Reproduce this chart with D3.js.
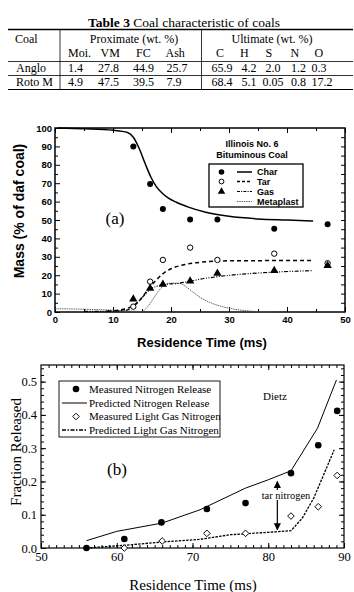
<!DOCTYPE html>
<html>
<head>
<meta charset="utf-8">
<script src="https://cdn.jsdelivr.net/npm/d3@7"></script>
<style>
  body { margin: 0; background: #fff; }
  svg { display: block; }
</style>
</head>
<body>
<div id="chart"></div>
<script>
// ---------- Table data
const coals = ['Anglo', 'Roto M']
const proxCols = ['Moi.', 'VM', 'FC', 'Ash']
const ultCols = ['C', 'H', 'S', 'N', 'O']
const angloVals = ['1.4', '27.8', '44.9', '25.7', '65.9', '4.2', '2.0', '1.2', '0.3']
const rotoVals = ['4.9', '47.5', '39.5', '7.9', '68.4', '5.1', '0.05', '0.8', '17.2']

// ---------- (a) Illinois No. 6 measurements
const measT = [13.5, 16.4, 18.6, 23.3, 28, 37.8, 47]
const charMeas = [90, 69.6, 56, 50.3, 50.3, 45.3, 47.7]
const tarMeas = [2.9, 16.5, 28.3, 35, 28.3, 31.7, 26.5]
const gasMeas = [7, 12.9, 15, 16.8, 21, 22.5, 25.2]

// (a) model curves
const charLineT = [0.5, 5, 10, 12.5, 13.5, 14.5, 15.5, 16.5, 17.5, 18.5, 19.5, 21, 23, 26, 30, 35, 40, 44.5]
const charLineM = [100, 99.6, 98.8, 97.6, 95, 89, 81, 73.5, 68, 64.5, 62, 59.5, 57, 54.2, 52, 50.6, 50, 49.5]
const tarLineT = [9, 11, 12.5, 13.5, 14.5, 15.5, 16.5, 17.5, 18.5, 20, 22, 25, 30, 44.5]
const tarLineM = [0.5, 1, 2, 3.5, 6, 10, 14, 17.5, 20.5, 23.5, 25.5, 27, 27.8, 28]
const gasLineT = [5, 10, 12.5, 13.5, 14.5, 15.5, 16.5, 17.5, 19, 21, 23, 25, 28, 32, 38, 44.5]
const gasLineM = [0.3, 0.5, 1.2, 3, 6, 9.5, 12.5, 14, 15, 15.5, 16.5, 17.8, 19.2, 20.5, 21.7, 22.5]
const metaLineT = [0, 5, 10, 13, 15, 16, 17, 18, 19, 20, 21.5, 22.5, 23.5, 25, 27, 29, 31, 33, 35, 37]
const metaLineM = [1.8, 1.5, 1, 0.5, 0.3, 3, 7.5, 12, 14.8, 15.7, 15.5, 14, 11.5, 8, 4.8, 2.8, 1.5, 0.7, 0.2, 0]

// ---------- (b) Dietz nitrogen release
const nMeasT = [56, 61, 65.9, 71.9, 77, 83, 86.6, 89.1]
const nMeasF = [0.0, 0.027, 0.077, 0.117, 0.135, 0.225, 0.309, 0.412]
const lgMeasT = [61, 66, 71.9, 77, 83, 86.6, 89.1]
const lgMeasF = [0.0, 0.021, 0.044, 0.044, 0.096, 0.124, 0.218]
const nPredT = [56, 60, 66, 71, 77, 80, 83, 86.5, 89]
const nPredF = [0.022, 0.05, 0.075, 0.115, 0.18, 0.205, 0.232, 0.36, 0.505]
const lgPredT = [56, 61, 66, 71, 75, 80, 83, 84.5, 86, 87.5, 88.7]
const lgPredF = [0, 0.008, 0.018, 0.026, 0.04, 0.047, 0.052, 0.09, 0.15, 0.23, 0.295]

const W = 354
const H = 592
const SERIF = "'Liberation Serif', 'Times New Roman', serif"
const SANS = "'Liberation Sans', Arial, Helvetica, sans-serif"

const svg = d3.select('#chart')
    .append('svg')
    .attr('width', W)
    .attr('height', H)
    .style('background', '#fff')

// ================= Table =================
const table = svg.append('g').attr('font-family', SERIF).attr('font-size', 12).attr('fill', '#000')

const title = table.append('text')
    .attr('x', 184).attr('y', 26.5)
    .attr('text-anchor', 'middle')
    .attr('font-size', 13.5)
title.append('tspan').attr('font-weight', 'bold').text('Table 3')
title.append('tspan').text(' Coal characteristic of coals')

const hLines = [[29.5, 1.3], [61.5, 0.8], [75.5, 0.8], [89.5, 1.2]]
hLines.forEach(([y, w]) => {
    table.append('line').attr('x1', 8).attr('x2', 353).attr('y1', y).attr('y2', y)
        .attr('stroke', '#000').attr('stroke-width', w)
})
;[60, 201.5].forEach(x => {
    table.append('line').attr('x1', x).attr('x2', x).attr('y1', 29.5).attr('y2', 89.5)
        .attr('stroke', '#000').attr('stroke-width', 0.8)
})

table.append('text').attr('x', 15).attr('y', 43).text('Coal')
table.append('text').attr('x', 134).attr('y', 43).attr('text-anchor', 'middle').text('Proximate (wt. %)')
table.append('text').attr('x', 272).attr('y', 43).attr('text-anchor', 'middle').text('Ultimate (wt. %)')

const headX = [68, 100.5, 136, 165.5, 216, 240, 265.5, 290.5, 314.5]
proxCols.concat(ultCols).forEach((c, i) => {
    table.append('text').attr('x', headX[i]).attr('y', 57).text(c)
})

const valX = [68, 98, 133, 166.5, 211.5, 241.5, 273, 298.5, 311.5]
const valAnchor = ['start', 'start', 'start', 'start', 'start', 'start', 'middle', 'middle', 'start']
;[angloVals, rotoVals].forEach((vals, r) => {
    const y = 71.5 + r * 14
    table.append('text').attr('x', 16).attr('y', y).text(coals[r])
    vals.forEach((v, i) => {
        table.append('text').attr('x', valX[i]).attr('y', y)
            .attr('text-anchor', valAnchor[i]).text(v)
    })
})

// ================= Chart (a) =================
const xA = d3.scaleLinear().domain([0, 50]).range([55, 345])
const yA = d3.scaleLinear().domain([0, 100]).range([312, 128])

const gA = svg.append('g')

function styleAxis(g, font, size, weight) {
    g.select('.domain').remove()
    g.selectAll('line').attr('stroke', '#000').attr('stroke-width', 1)
    g.selectAll('text').attr('font-family', font).attr('font-size', size)
        .attr('font-weight', weight).attr('fill', '#000')
}

// bottom
gA.append('g').attr('transform', 'translate(0,312)')
    .call(d3.axisBottom(xA).tickValues(d3.range(0, 51, 10)).tickSize(-5).tickPadding(4).tickFormat(d3.format('d')))
    .call(g => styleAxis(g, SANS, 9.5, 'bold'))
gA.append('g').attr('transform', 'translate(0,312)')
    .call(d3.axisBottom(xA).tickValues(d3.range(5, 50, 10)).tickSize(-3).tickFormat(''))
    .call(g => styleAxis(g, SANS, 9.5, 'bold'))
// top
gA.append('g').attr('transform', 'translate(0,128)')
    .call(d3.axisTop(xA).tickValues(d3.range(0, 51, 10)).tickSize(-5).tickFormat(''))
    .call(g => styleAxis(g, SANS, 9.5, 'bold'))
gA.append('g').attr('transform', 'translate(0,128)')
    .call(d3.axisTop(xA).tickValues(d3.range(5, 50, 10)).tickSize(-3).tickFormat(''))
    .call(g => styleAxis(g, SANS, 9.5, 'bold'))
// left
gA.append('g').attr('transform', 'translate(55,0)')
    .call(d3.axisLeft(yA).tickValues(d3.range(0, 101, 10)).tickSize(-5).tickPadding(3).tickFormat(d3.format('d')))
    .call(g => styleAxis(g, SANS, 9.5, 'bold'))
gA.append('g').attr('transform', 'translate(55,0)')
    .call(d3.axisLeft(yA).tickValues(d3.range(5, 100, 10)).tickSize(-3).tickFormat(''))
    .call(g => styleAxis(g, SANS, 9.5, 'bold'))
// right
gA.append('g').attr('transform', 'translate(345,0)')
    .call(d3.axisRight(yA).tickValues(d3.range(5, 100, 5)).tickSize(-4).tickFormat(''))
    .call(g => styleAxis(g, SANS, 9.5, 'bold'))

gA.append('rect').attr('x', 55).attr('y', 128).attr('width', 290).attr('height', 184)
    .attr('fill', 'none').attr('stroke', '#000').attr('stroke-width', 1.5)

const lineA = d3.line().x(d => xA(d[0])).y(d => yA(d[1])).curve(d3.curveMonotoneX)

gA.append('path').datum(d3.zip(metaLineT, metaLineM)).attr('d', lineA)
    .attr('fill', 'none').attr('stroke', '#555').attr('stroke-width', 0.9).attr('stroke-dasharray', '1.5,0.8')
gA.append('path').datum(d3.zip(charLineT, charLineM)).attr('d', lineA)
    .attr('fill', 'none').attr('stroke', '#000').attr('stroke-width', 1.5)
gA.append('path').datum(d3.zip(tarLineT, tarLineM)).attr('d', lineA)
    .attr('fill', 'none').attr('stroke', '#000').attr('stroke-width', 1.5).attr('stroke-dasharray', '4,3')
gA.append('path').datum(d3.zip(gasLineT, gasLineM)).attr('d', lineA)
    .attr('fill', 'none').attr('stroke', '#000').attr('stroke-width', 1.2).attr('stroke-dasharray', '4,1.5,1,1.5,1,1.5')

const triangle = d3.symbol().type(d3.symbolTriangle).size(30)

gA.selectAll('circle.char').data(d3.zip(measT, charMeas)).enter().append('circle')
    .attr('class', 'char').attr('cx', d => xA(d[0])).attr('cy', d => yA(d[1])).attr('r', 3).attr('fill', '#000')
gA.selectAll('circle.tar').data(d3.zip(measT, tarMeas)).enter().append('circle')
    .attr('class', 'tar').attr('cx', d => xA(d[0])).attr('cy', d => yA(d[1])).attr('r', 2.7)
    .attr('fill', '#fff').attr('stroke', '#000').attr('stroke-width', 1)
gA.selectAll('path.gas').data(d3.zip(measT, gasMeas)).enter().append('path')
    .attr('class', 'gas').attr('d', triangle)
    .attr('transform', d => `translate(${xA(d[0])},${yA(d[1])})`).attr('fill', '#000')

// legend (a)
const legA = gA.append('g').attr('font-family', SANS).attr('font-weight', 'bold').attr('font-size', 9).attr('fill', '#000')
legA.append('text').attr('x', 252).attr('y', 147).attr('text-anchor', 'middle').text('Illinois No. 6')
legA.append('text').attr('x', 252).attr('y', 157.5).attr('text-anchor', 'middle').text('Bituminous Coal')
legA.append('rect').attr('x', 209).attr('y', 164).attr('width', 94).attr('height', 43)
    .attr('fill', '#fff').attr('stroke', '#000').attr('stroke-width', 1.3)
const legAItems = ['Char', 'Tar', 'Gas', 'Metaplast']
const legAy = [172, 181.5, 191.5, 201.5]
const legADash = [null, '3,2', '3,1.2,1,1.2', '1.5,0.8']
const legAStroke = ['#000', '#000', '#000', '#555']
const legAWidth = [1.5, 1.3, 1.2, 0.9]
legAItems.forEach((name, i) => {
    legA.append('line').attr('x1', 237).attr('x2', 252).attr('y1', legAy[i]).attr('y2', legAy[i])
        .attr('stroke', legAStroke[i]).attr('stroke-width', legAWidth[i])
        .attr('stroke-dasharray', legADash[i])
    legA.append('text').attr('x', 257).attr('y', legAy[i] + 3.3).text(name)
})
legA.append('circle').attr('cx', 221.5).attr('cy', legAy[0]).attr('r', 2.8).attr('fill', '#000')
legA.append('circle').attr('cx', 221.5).attr('cy', legAy[1]).attr('r', 2.4)
    .attr('fill', '#fff').attr('stroke', '#000').attr('stroke-width', 1)
legA.append('path').attr('d', d3.symbol().type(d3.symbolTriangle).size(24))
    .attr('transform', `translate(221.5,${legAy[2]})`).attr('fill', '#000')

gA.append('text').attr('x', 115).attr('y', 224).attr('text-anchor', 'middle')
    .attr('font-family', SERIF).attr('font-size', 17).text('(a)')

gA.append('text').attr('x', 202).attr('y', 347).attr('text-anchor', 'middle')
    .attr('font-family', SANS).attr('font-weight', 'bold').attr('font-size', 13).text('Residence Time (ms)')
gA.append('text').attr('transform', 'translate(24,211) rotate(-90)').attr('text-anchor', 'middle')
    .attr('font-family', SANS).attr('font-weight', 'bold').attr('font-size', 14).text('Mass (% of daf coal)')

// ================= Chart (b) =================
const xB = d3.scaleLinear().domain([50, 90]).range([41, 344])
const yB = d3.scaleLinear().domain([0, 0.55]).range([548, 365])

const gB = svg.append('g')

gB.append('g').attr('transform', 'translate(0,548)')
    .call(d3.axisBottom(xB).tickValues(d3.range(50, 91, 10)).tickSize(-5).tickPadding(4).tickFormat(d3.format('d')))
    .call(g => styleAxis(g, SERIF, 12.5, 'normal'))
gB.append('g').attr('transform', 'translate(0,548)')
    .call(d3.axisBottom(xB).tickValues(d3.range(51, 90, 1)).tickSize(-3).tickFormat(''))
    .call(g => styleAxis(g, SERIF, 12.5, 'normal'))
gB.append('g').attr('transform', 'translate(0,365)')
    .call(d3.axisTop(xB).tickValues(d3.range(51, 90, 1)).tickSize(-3).tickFormat(''))
    .call(g => styleAxis(g, SERIF, 12.5, 'normal'))
gB.append('g').attr('transform', 'translate(0,365)')
    .call(d3.axisTop(xB).tickValues(d3.range(60, 90, 10)).tickSize(-5).tickFormat(''))
    .call(g => styleAxis(g, SERIF, 12.5, 'normal'))
gB.append('g').attr('transform', 'translate(41,0)')
    .call(d3.axisLeft(yB).tickValues(d3.range(0, 6).map(d => d / 10)).tickSize(-5).tickPadding(4).tickFormat(d3.format('.1f')))
    .call(g => styleAxis(g, SERIF, 12.5, 'normal'))
gB.append('g').attr('transform', 'translate(41,0)')
    .call(d3.axisLeft(yB).tickValues(d3.range(1, 28).map(d => d / 50)).tickSize(-3).tickFormat(''))
    .call(g => styleAxis(g, SERIF, 12.5, 'normal'))
gB.append('g').attr('transform', 'translate(344,0)')
    .call(d3.axisRight(yB).tickValues(d3.range(1, 28).map(d => d / 50)).tickSize(-3).tickFormat(''))
    .call(g => styleAxis(g, SERIF, 12.5, 'normal'))
gB.append('g').attr('transform', 'translate(344,0)')
    .call(d3.axisRight(yB).tickValues(d3.range(1, 6).map(d => d / 10)).tickSize(-5).tickFormat(''))
    .call(g => styleAxis(g, SERIF, 12.5, 'normal'))

gB.append('rect').attr('x', 41).attr('y', 365).attr('width', 303).attr('height', 183)
    .attr('fill', 'none').attr('stroke', '#000').attr('stroke-width', 1.2)

const lineB = d3.line().x(d => xB(d[0])).y(d => yB(d[1]))

gB.append('path').datum(d3.zip(nPredT, nPredF)).attr('d', lineB)
    .attr('fill', 'none').attr('stroke', '#000').attr('stroke-width', 1)
gB.append('path').datum(d3.zip(lgPredT, lgPredF)).attr('d', lineB)
    .attr('fill', 'none').attr('stroke', '#000').attr('stroke-width', 1.3).attr('stroke-dasharray', '2.5,1.2')

// open diamond = square rotated 45 degrees
const diamond = d3.symbol().type(d3.symbolSquare).size(22)

gB.selectAll('path.lg').data(d3.zip(lgMeasT, lgMeasF)).enter().append('path')
    .attr('class', 'lg').attr('d', diamond)
    .attr('transform', d => `translate(${xB(d[0])},${yB(d[1])}) rotate(45)`)
    .attr('fill', '#fff').attr('stroke', '#000').attr('stroke-width', 0.9)
gB.selectAll('circle.nm').data(d3.zip(nMeasT, nMeasF)).enter().append('circle')
    .attr('class', 'nm').attr('cx', d => xB(d[0])).attr('cy', d => yB(d[1])).attr('r', 3.3).attr('fill', '#000')

// tar nitrogen arrow
const defs = svg.append('defs')
defs.append('marker').attr('id', 'ah').attr('viewBox', '0 0 10 10').attr('refX', 9).attr('refY', 5)
    .attr('markerWidth', 6).attr('markerHeight', 7).attr('orient', 'auto-start-reverse')
    .append('path').attr('d', 'M0,0 L10,5 L0,10 z').attr('fill', '#000')
gB.append('line').attr('x1', xB(81.2)).attr('x2', xB(81.2)).attr('y1', yB(0.2)).attr('y2', yB(0.055))
    .attr('stroke', '#000').attr('stroke-width', 1.2)
    .attr('marker-start', 'url(#ah)').attr('marker-end', 'url(#ah)')
gB.append('rect').attr('x', 261).attr('y', 490).attr('width', 50).attr('height', 10).attr('fill', '#fff')
gB.append('text').attr('x', 286).attr('y', 498.5).attr('text-anchor', 'middle')
    .attr('font-family', SERIF).attr('font-size', 10.5).text('tar nitrogen')

gB.append('text').attr('x', 275).attr('y', 400).attr('text-anchor', 'middle')
    .attr('font-family', SERIF).attr('font-size', 11).text('Dietz')

// legend (b)
const legB = gB.append('g').attr('font-family', SERIF).attr('font-size', 11).attr('fill', '#000')
legB.append('rect').attr('x', 59).attr('y', 381).attr('width', 161).attr('height', 56)
    .attr('fill', '#fff').attr('stroke', '#000').attr('stroke-width', 0.9)
const legBItems = ['Measured Nitrogen Release', 'Predicted Nitrogen Release', 'Measured Light Gas Nitrogen', 'Predicted Light Gas Nitrogen']
const legBy = [389, 403, 416.5, 430]
legBItems.forEach((name, i) => {
    legB.append('text').attr('x', 89).attr('y', legBy[i] + 3.8).text(name)
})
legB.append('circle').attr('cx', 76).attr('cy', legBy[0]).attr('r', 3.3).attr('fill', '#000')
legB.append('line').attr('x1', 62).attr('x2', 87).attr('y1', legBy[1]).attr('y2', legBy[1])
    .attr('stroke', '#000').attr('stroke-width', 1)
legB.append('path').attr('d', diamond).attr('transform', `translate(76,${legBy[2]}) rotate(45)`)
    .attr('fill', '#fff').attr('stroke', '#000').attr('stroke-width', 0.9)
legB.append('line').attr('x1', 62).attr('x2', 87).attr('y1', legBy[3]).attr('y2', legBy[3])
    .attr('stroke', '#000').attr('stroke-width', 1.3).attr('stroke-dasharray', '4,1.5,1.5,1.5')

gB.append('text').attr('x', 117).attr('y', 475).attr('text-anchor', 'middle')
    .attr('font-family', SERIF).attr('font-size', 17).text('(b)')

gB.append('text').attr('x', 193).attr('y', 590).attr('text-anchor', 'middle')
    .attr('font-family', SERIF).attr('font-size', 15).text('Residence Time (ms)')
gB.append('text').attr('transform', 'translate(21,452) rotate(-90)').attr('text-anchor', 'middle')
    .attr('font-family', SERIF).attr('font-size', 15).text('Fraction Released')
</script>
</body>
</html>
